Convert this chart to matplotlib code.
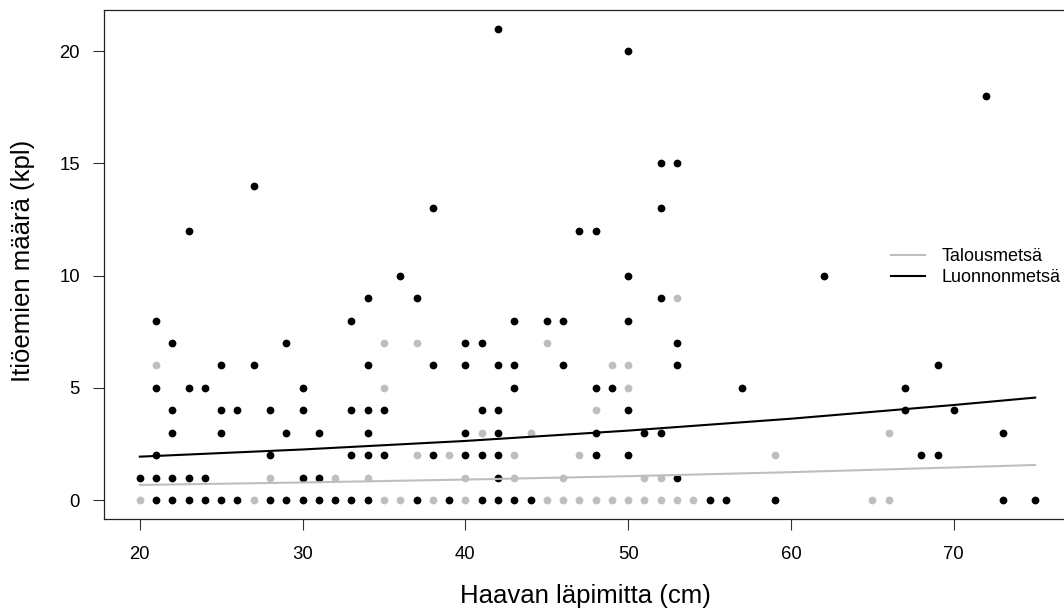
import matplotlib
matplotlib.use("Agg")
import matplotlib.pyplot as plt

plt.rcParams['font.family'] = ['Liberation Sans', 'DejaVu Sans']

# Talousmetsä (grey points)
talous_x = [20, 21, 27, 28, 32, 34, 35, 35, 35, 36, 37, 37, 38, 39, 40, 40, 41,
            43, 43, 44, 45, 45, 46, 46, 47, 47, 48, 48, 49, 49, 50, 50, 50, 51,
            51, 52, 52, 53, 53, 54, 59, 65, 66, 66]
talous_y = [0, 6, 0, 1, 1, 1, 7, 5, 0, 0, 7, 2, 0, 2, 1, 0, 3,
            2, 1, 3, 7, 0, 1, 0, 2, 0, 4, 0, 6, 0, 6, 5, 0, 1,
            0, 1, 0, 9, 0, 0, 2, 0, 3, 0]

# Luonnonmetsä (black points)
luonnon_x = [21, 33, 22, 29, 25, 27, 21, 23, 24, 30, 22, 25, 26, 28, 30, 33,
             22, 25, 29, 31, 21, 28, 33, 20, 21, 22, 23, 24, 30, 31,
             21, 22, 23, 24, 25, 26, 28, 29, 30, 31, 32, 33, 23, 27,
             34, 37, 43, 45, 46, 40, 41, 34, 38, 40, 42, 43, 46, 43,
             34, 35, 41, 42, 34, 40, 42, 34, 35, 38, 40, 41, 42, 42,
             34, 37, 39, 41, 42, 43, 44, 36, 38, 42,
             52, 50, 53, 53, 48, 49, 57, 50, 48, 51, 52, 48, 50, 53,
             55, 56, 59, 47, 48, 50, 50, 52, 53, 52,
             62, 69, 67, 67, 70, 73, 68, 69, 73, 75, 72]
luonnon_y = [8, 8, 7, 7, 6, 6, 5, 5, 5, 5, 4, 4, 4, 4, 4, 4,
             3, 3, 3, 3, 2, 2, 2, 1, 1, 1, 1, 1, 1, 1,
             0, 0, 0, 0, 0, 0, 0, 0, 0, 0, 0, 0, 12, 14,
             9, 9, 8, 8, 8, 7, 7, 6, 6, 6, 6, 6, 6, 5,
             4, 4, 4, 4, 3, 3, 3, 2, 2, 2, 2, 2, 2, 1,
             0, 0, 0, 0, 0, 0, 0, 10, 13, 21,
             9, 8, 7, 6, 5, 5, 5, 4, 3, 3, 3, 2, 2, 1,
             0, 0, 0, 12, 12, 20, 10, 15, 15, 13,
             10, 6, 5, 4, 4, 3, 2, 2, 0, 0, 18]

# fitted curves
fit_x = [20, 30, 40, 50, 60, 70, 75]
fit_talous = [0.68, 0.79, 0.92, 1.07, 1.25, 1.46, 1.57]
fit_luonnon = [1.94, 2.26, 2.64, 3.10, 3.63, 4.24, 4.57]

legend_labels = ["Talousmetsä", "Luonnonmetsä"]
grey = "#bebebe"

W, H = 1064, 612
fig = plt.figure(figsize=(W / 100, H / 100), dpi=100)
# plot box runs a little past the right edge of the picture, like the original
ax = fig.add_axes([104 / W, (H - 519.1) / H, (1071 - 104) / W, (519.1 - 9.7) / H])

ax.plot(talous_x, talous_y, 'o', color=grey, ms=5.6, mew=0, zorder=2)
ax.plot(luonnon_x, luonnon_y, 'o', color='black', ms=5.6, mew=0, zorder=3)
l1, = ax.plot(fit_x, fit_talous, '-', color=grey, lw=1.5, zorder=4)
l2, = ax.plot(fit_x, fit_luonnon, '-', color='black', lw=1.5, zorder=4)

ax.set_xlim(17.8, 77.2)
ax.set_ylim(-0.84, 21.84)
ax.set_xticks([20, 30, 40, 50, 60, 70])
ax.set_yticks([0, 5, 10, 15, 20])
ax.tick_params(direction='out', length=8, width=0.8, color='#333333', labelsize=13.3)
ax.tick_params(axis='x', pad=11.7)
ax.tick_params(axis='y', pad=9.3)
for s in ax.spines.values():
    s.set_linewidth(0.9)
    s.set_color('#222222')

fig.text(585 / W, (H - 603.3) / H, "Haavan läpimitta (cm)", fontsize=18.5,
         ha='center', va='baseline')
fig.text(30 / W, 1 - 261 / H, "Itiöemien määrä (kpl)", fontsize=18.5,
         ha='center', va='baseline', rotation=90, rotation_mode='anchor')

fig.legend([l1, l2], legend_labels, loc='center left',
           bbox_to_anchor=(891 / W, 1 - 267 / H), frameon=False,
           fontsize=13, handlelength=1.9, handletextpad=0.9,
           labelspacing=0.22, borderpad=0, borderaxespad=0)

fig.savefig("out.png", dpi=100)
